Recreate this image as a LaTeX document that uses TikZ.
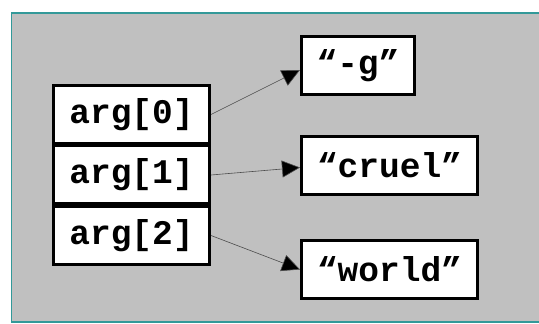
\documentclass[tikz,border=0pt]{standalone}
\usepackage{fontspec}
\setmonofont{Liberation Mono}
\usetikzlibrary{arrows.meta}
\definecolor{panelgray}{HTML}{C0C0C0}
\definecolor{panelteal}{HTML}{339999}
\tikzset{
  cell/.style={draw=black, line width=3pt, fill=white, inner sep=0pt,
    font=\ttfamily\bfseries\fontsize{34.5}{38}\selectfont, minimum height=58pt},
  ptr/.style={draw=black!70, line width=0.6pt, -{Triangle[length=18pt,width=17pt,fill=black]}}
}
\begin{document}
\begin{tikzpicture}[x=1pt,y=1pt]
\useasboundingbox (0,0) rectangle (539,324);
\fill[panelgray] (11.5,2) rectangle (539,311);
\draw[panelteal, line width=1.2pt] (539,311) -- (11.5,311) -- (11.5,2) -- (539,2);
\node[cell, minimum width=156pt] (a0) at (131.5,209.5) {arg[0]};
\node[cell, minimum width=156pt] (a1) at (131.5,149) {arg[1]};
\node[cell, minimum width=156pt] (a2) at (131.5,88.5) {arg[2]};
\node[cell, minimum width=113pt] (g) at (358,258) {“-g”};
\node[cell, minimum width=176pt] (c) at (389.5,158.5) {“cruel”};
\node[cell, minimum width=176pt] (w) at (389.5,54.5) {“world”};
\draw[ptr] (a0.east) -- ([yshift=-4pt]g.west);
\draw[ptr] (a1.east) -- ([yshift=-2pt]c.west);
\draw[ptr] (a2.east) -- (w.west);
\end{tikzpicture}
\end{document}
